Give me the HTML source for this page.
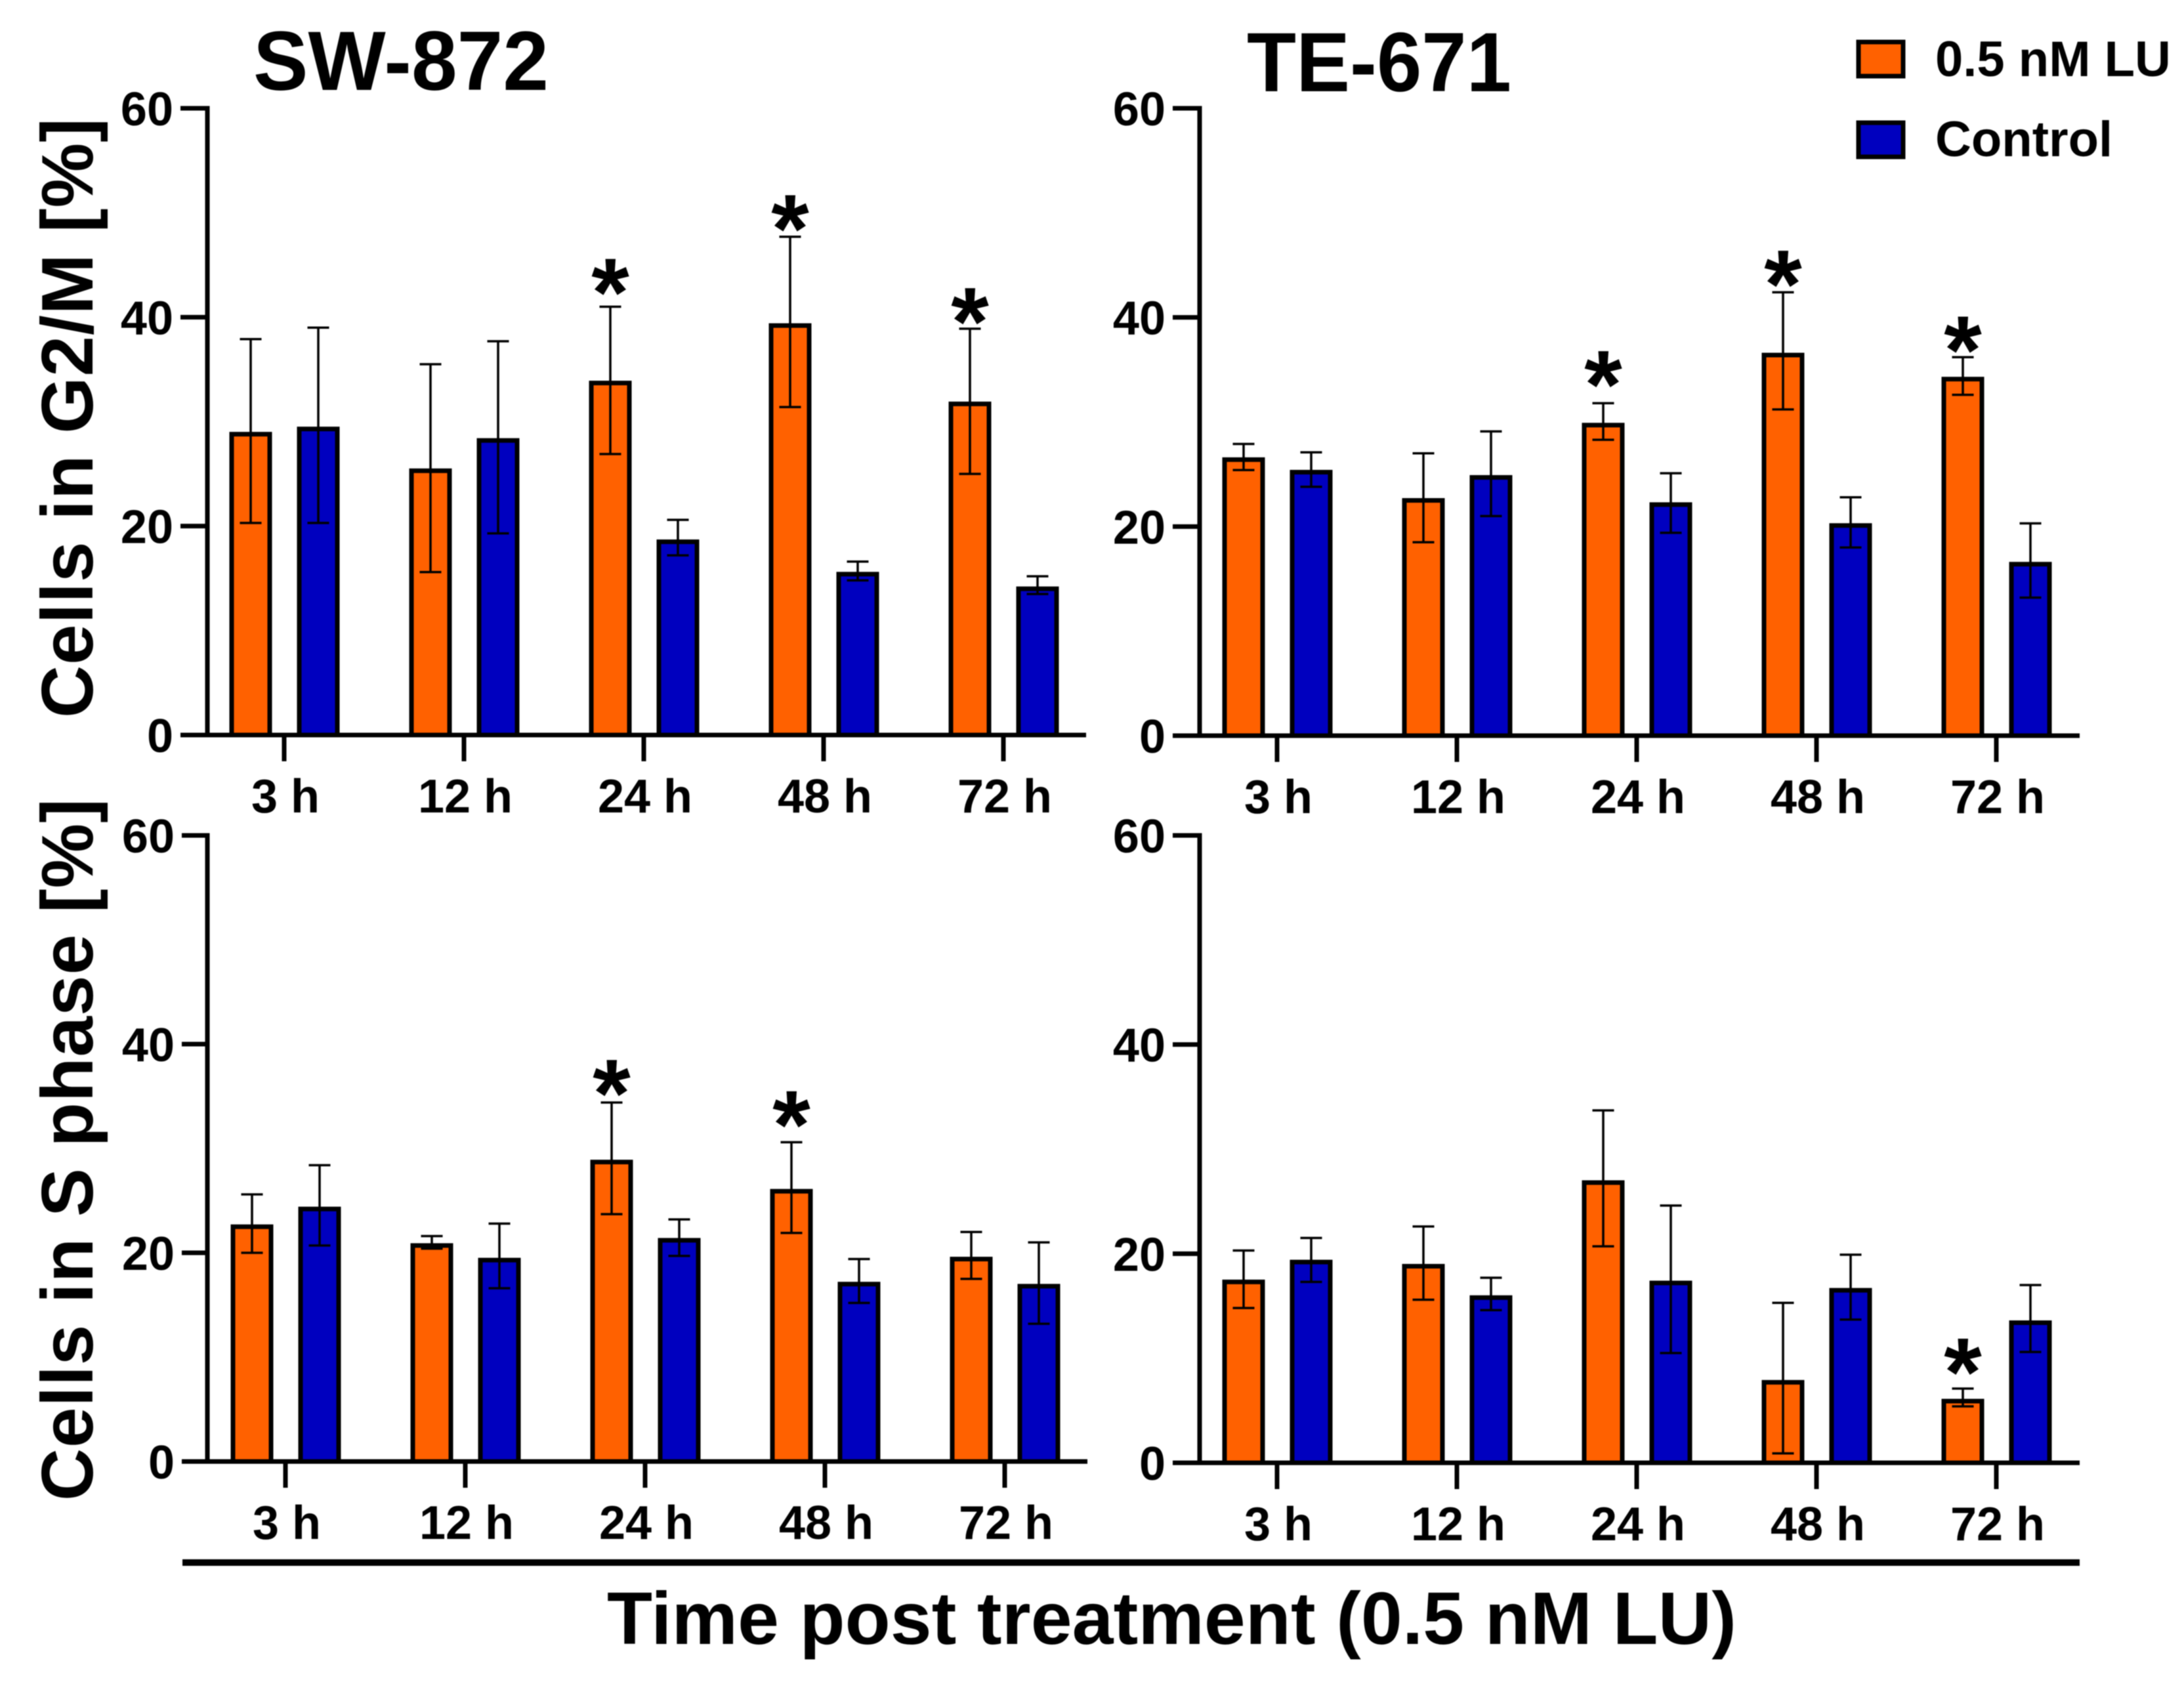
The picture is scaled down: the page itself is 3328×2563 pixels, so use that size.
<!DOCTYPE html>
<html lang="en">
<head>
<meta charset="utf-8">
<title>Cell cycle phases after LU treatment</title>
<style>
html,body{margin:0;padding:0;background:#fff;}
svg{display:block;font-family:"Liberation Sans",Arial,sans-serif;font-weight:bold;fill:#000;filter:blur(0.8px);}
</style>
</head>
<body>
<svg id="figure" xmlns="http://www.w3.org/2000/svg" width="3328" height="2563" viewBox="0 0 3328 2563">
  <rect x="0" y="0" width="3328" height="2563" fill="#fff"/>
  <text x="386" y="137" font-size="128" textLength="450" lengthAdjust="spacingAndGlyphs">SW-872</text>
  <text x="1900" y="139" font-size="128" textLength="403" lengthAdjust="spacingAndGlyphs">TE-671</text>
  <text transform="translate(141,1094) rotate(-90)" font-size="111" textLength="914">Cells in G2/M [%]</text>
  <text transform="translate(141,2287) rotate(-90)" font-size="111" textLength="1070">Cells in S phase [%]</text>
  <rect x="278" y="2376" width="2891" height="10" fill="#000"/>
  <text x="925" y="2505" font-size="113" textLength="1721">Time post treatment (0.5 nM LU)</text>
  <g>
    <rect x="2832" y="64" width="68" height="52" fill="#FF6100" stroke="#000" stroke-width="7"/>
    <text x="2949" y="116" font-size="76">0.5 nM LU</text>
    <rect x="2832" y="187" width="68" height="52" fill="#0000BF" stroke="#000" stroke-width="7"/>
    <text x="2949" y="238" font-size="76">Control</text>
  </g>
  <g id="charts"></g>
</svg>
<script>
const categories = ['3 h', '12 h', '24 h', '48 h', '72 h'];
const yTicks = [0, 20, 40, 60];

const swG2mLu = [28.8, 25.3, 33.7, 39.2, 31.7];
const swG2mLuHigh = [37.9, 35.5, 41.0, 47.7, 38.9];
const swG2mLuLow = [20.3, 15.6, 26.9, 31.4, 25.0];
const swG2mCtrl = [29.3, 28.2, 18.5, 15.4, 14.0];
const swG2mCtrlHigh = [39.0, 37.7, 20.6, 16.6, 15.2];
const swG2mCtrlLow = [20.3, 19.3, 17.2, 14.8, 13.5];
const swG2mStars = [null, null, 43.7, 49.8, 40.9];

const teG2mLu = [26.4, 22.5, 29.7, 36.4, 34.1];
const teG2mLuHigh = [27.9, 27.0, 31.8, 42.4, 36.2];
const teG2mLuLow = [25.4, 18.5, 28.3, 31.2, 32.6];
const teG2mCtrl = [25.2, 24.7, 22.1, 20.1, 16.4];
const teG2mCtrlHigh = [27.1, 29.1, 25.1, 22.8, 20.3];
const teG2mCtrlLow = [23.8, 21.0, 19.4, 18.0, 13.2];
const teG2mStars = [null, null, 34.9, 44.5, 38.2];

const swSLu = [22.5, 20.7, 28.7, 25.9, 19.4];
const swSLuHigh = [25.6, 21.6, 34.4, 30.6, 22.0];
const swSLuLow = [20.0, 20.4, 23.7, 21.9, 17.5];
const swSCtrl = [24.2, 19.3, 21.2, 17.0, 16.8];
const swSCtrlHigh = [28.4, 22.8, 23.2, 19.4, 21.0];
const swSCtrlLow = [20.7, 16.6, 19.7, 15.2, 13.2];
const swSStars = [null, null, 36.6, 33.6, null];

const teSLu = [17.3, 18.8, 26.8, 7.7, 5.9];
const teSLuHigh = [20.3, 22.6, 33.7, 15.3, 7.1];
const teSLuLow = [14.8, 15.6, 20.7, 0.9, 5.4];
const teSCtrl = [19.2, 15.8, 17.2, 16.5, 13.4];
const teSCtrlHigh = [21.5, 17.7, 24.6, 19.9, 17.0];
const teSCtrlLow = [17.3, 14.6, 10.5, 13.7, 10.6];
const teSStars = [null, null, null, null, 10.0];

const panels = [
  {id: 'sw-872-g2m', axisX: 316, leftEnd: 275, rightEnd: 1655, y0: 1120, y60: 165, firstTick: 433, tickStep: 274,
   lu: swG2mLu, luHigh: swG2mLuHigh, luLow: swG2mLuLow, ctrl: swG2mCtrl, ctrlHigh: swG2mCtrlHigh, ctrlLow: swG2mCtrlLow, stars: swG2mStars},
  {id: 'te-671-g2m', axisX: 1828, leftEnd: 1787, rightEnd: 3169, y0: 1121, y60: 165, firstTick: 1946, tickStep: 274,
   lu: teG2mLu, luHigh: teG2mLuHigh, luLow: teG2mLuLow, ctrl: teG2mCtrl, ctrlHigh: teG2mCtrlHigh, ctrlLow: teG2mCtrlLow, stars: teG2mStars},
  {id: 'sw-872-s', axisX: 316, leftEnd: 277, rightEnd: 1657, y0: 2227, y60: 1273, firstTick: 435, tickStep: 274,
   lu: swSLu, luHigh: swSLuHigh, luLow: swSLuLow, ctrl: swSCtrl, ctrlHigh: swSCtrlHigh, ctrlLow: swSCtrlLow, stars: swSStars},
  {id: 'te-671-s', axisX: 1828, leftEnd: 1787, rightEnd: 3169, y0: 2229, y60: 1273, firstTick: 1946, tickStep: 274,
   lu: teSLu, luHigh: teSLuHigh, luLow: teSLuLow, ctrl: teSCtrl, ctrlHigh: teSCtrlHigh, ctrlLow: teSCtrlLow, stars: teSStars}
];

const NS = 'http://www.w3.org/2000/svg';
const root = document.getElementById('charts');

function make(tag, attrs, parent, text) {
  const el = document.createElementNS(NS, tag);
  for (const k in attrs) el.setAttribute(k, attrs[k]);
  if (text !== undefined) el.textContent = text;
  parent.appendChild(el);
  return el;
}

function drawSeries(group, p, values, high, low, offset, fill, seriesName, yScale, xScale) {
  values.forEach(function (v, i) {
    const cx = xScale(i) + offset;
    const bar = make('rect', {x: cx - 29, y: yScale(v), width: 58, height: yScale(0) - yScale(v), fill: fill, stroke: '#000', 'stroke-width': 7}, group);
    
    
    const err = make('path', {
      d: 'M' + (cx - 16.5) + ' ' + yScale(high[i]) + 'H' + (cx + 16.5) +
         'M' + cx + ' ' + yScale(high[i]) + 'V' + yScale(low[i]) +
         'M' + (cx - 16.5) + ' ' + yScale(low[i]) + 'H' + (cx + 16.5),
      fill: 'none', stroke: '#000', 'stroke-width': 3.5}, group);
    
    
  });
}

panels.forEach(function (p) {
  const yScale = function (v) { return p.y0 - (p.y0 - p.y60) * v / 60; };
  const xScale = function (i) { return p.firstTick + p.tickStep * i; };
  const g = make('g', {}, root);
  
  

  drawSeries(g, p, p.lu, p.luHigh, p.luLow, -51, '#FF6100', 'lu', yScale, xScale);
  drawSeries(g, p, p.ctrl, p.ctrlHigh, p.ctrlLow, 52, '#0000BF', 'control', yScale, xScale);

  const yAxis = make('line', {x1: p.axisX, x2: p.axisX, y1: p.y60 - 3.5, y2: p.y0 + 3.5, stroke: '#000', 'stroke-width': 7}, g);
  
  
  const xAxis = make('line', {x1: p.leftEnd, x2: p.rightEnd, y1: p.y0, y2: p.y0, stroke: '#000', 'stroke-width': 7}, g);
  
  

  yTicks.forEach(function (t) {
    const tick = make('line', {x1: p.leftEnd, x2: p.axisX, y1: yScale(t), y2: yScale(t), stroke: '#000', 'stroke-width': 7}, g);
    
    
    const label = make('text', {x: p.leftEnd - 11, y: yScale(t) + 26, 'font-size': 72, 'text-anchor': 'end'}, g, String(t));
    
    
  });

  categories.forEach(function (c, i) {
    const tick = make('line', {x1: xScale(i), x2: xScale(i), y1: p.y0, y2: p.y0 + 40, stroke: '#000', 'stroke-width': 7}, g);
    
    
    const label = make('text', {x: xScale(i) + 2, y: p.y0 + 118, 'font-size': 72, 'text-anchor': 'middle'}, g, c);
    
    
  });

  p.stars.forEach(function (s, i) {
    if (s === null) return;
    const star = make('text', {x: xScale(i) - 51, y: yScale(s) + 72, 'font-size': 148, 'text-anchor': 'middle'}, g, '*');
    
    
  });
});
</script>
</body>
</html>
